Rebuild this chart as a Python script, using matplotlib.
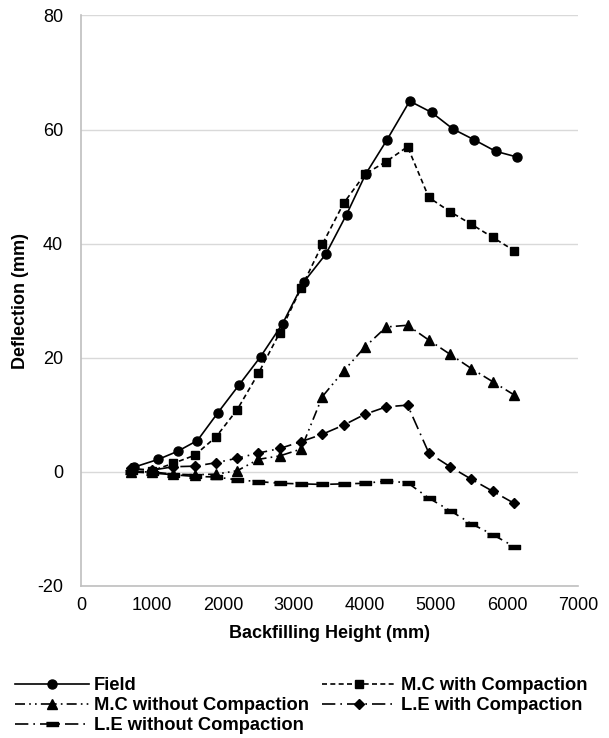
import matplotlib.pyplot as plt

plt.rcParams['font.family'] = ['Liberation Sans', 'DejaVu Sans']
plt.rcParams['axes.unicode_minus'] = False

# -------------------------------
# DATA
# -------------------------------
field_x = [740, 1090, 1360, 1640, 1930, 2230, 2530, 2840, 3140, 3450,
           3740, 4010, 4310, 4630, 4940, 5240, 5540, 5840, 6140]
field_y = [0.8, 2.2, 3.6, 5.5, 10.4, 15.3, 20.2, 26.0, 33.3, 38.2,
           45.1, 52.2, 58.2, 65.0, 63.0, 60.1, 58.2, 56.2, 55.2]

model_x = [700, 1000, 1300, 1600, 1900, 2200, 2500, 2800, 3100, 3400,
           3700, 4000, 4300, 4600, 4900, 5200, 5500, 5800, 6100]
mc_comp = [0.0, 0.2, 1.5, 2.9, 6.1, 10.9, 17.3, 24.4, 32.2, 39.9,
           47.1, 52.2, 54.4, 57.0, 48.1, 45.6, 43.4, 41.1, 38.8]
mc_no_comp = [0.0, 0.0, -0.4, -0.5, -0.4, 0.2, 2.2, 2.8, 4.0, 13.2,
              17.7, 21.9, 25.4, 25.7, 23.1, 20.6, 18.1, 15.8, 13.5]
le_comp = [0.6, 0.3, 0.9, 1.0, 1.6, 2.4, 3.3, 4.1, 5.3, 6.6,
           8.2, 10.1, 11.4, 11.7, 3.3, 0.9, -1.3, -3.4, -5.5]
le_no_comp = [0.0, -0.2, -0.5, -0.8, -0.9, -1.4, -1.7, -2.0, -2.1, -2.2,
              -2.1, -2.0, -1.6, -1.9, -4.6, -6.8, -9.1, -11.0, -13.1]

x_ticks = [0, 1000, 2000, 3000, 4000, 5000, 6000, 7000]
y_ticks = [-20, 0, 20, 40, 60, 80]

# -------------------------------
# FIGURE
# -------------------------------
fig = plt.figure(figsize=(6.09, 7.38), dpi=100)
ax = fig.add_axes([0.133, 0.206, 0.816, 0.773])

lw = 1.2
dash_marker = [(-1, -0.35), (1, -0.35), (1, 0.35), (-1, 0.35)]

h_field, = ax.plot(field_x, field_y, color="black", lw=lw, ls="-",
                   marker="o", ms=6.5, label="Field")
h_mc1, = ax.plot(model_x, mc_comp, color="black", lw=lw, ls=(0, (3, 2)),
                 marker="s", ms=6, label="M.C with Compaction")
h_mc2, = ax.plot(model_x, mc_no_comp, color="black", lw=lw,
                 ls=(0, (6, 2.5, 1, 2.5, 1, 2.5)),
                 marker="^", ms=6.5, label="M.C without Compaction")
h_le1, = ax.plot(model_x, le_comp, color="black", lw=lw,
                 ls=(0, (8, 3, 1, 3)),
                 marker="D", ms=5, label="L.E with Compaction")
h_le2, = ax.plot(model_x, le_no_comp, color="black", lw=lw,
                 ls=(0, (8, 3, 1, 3)),
                 marker=dash_marker, ms=8, label="L.E without Compaction")

ax.set_xlim(0, 7000)
ax.set_ylim(-20, 80)
ax.set_xticks(x_ticks)
ax.set_yticks(y_ticks)
ax.tick_params(length=0, labelsize=13, colors="black")
ax.tick_params(axis="x", pad=8)
ax.tick_params(axis="y", pad=13)
ax.yaxis.grid(True, color="#D9D9D9", lw=1)
ax.set_axisbelow(True)

for side in ["top", "right"]:
    ax.spines[side].set_visible(False)
for side in ["left", "bottom"]:
    ax.spines[side].set_color("#BFBFBF")
    ax.spines[side].set_linewidth(1.2)

ax.set_xlabel("Backfilling Height (mm)", fontsize=13, fontweight="bold",
              labelpad=8)
ax.set_ylabel("Deflection (mm)", fontsize=13, fontweight="bold",
              labelpad=6)

# legend filled column-wise, so reorder to read row-wise
handles = [h_field, h_mc2, h_le2, h_mc1, h_le1]
fig.legend(handles, [h.get_label() for h in handles],
           loc="upper left", bbox_to_anchor=(0.025, 0.082), ncol=2,
           frameon=False, prop={"weight": "bold", "size": 13.2},
           handlelength=4.0, handletextpad=0.3, labelspacing=0.15,
           columnspacing=0.7, borderaxespad=0, borderpad=0)

plt.savefig("out.png", dpi=100)
plt.close()
